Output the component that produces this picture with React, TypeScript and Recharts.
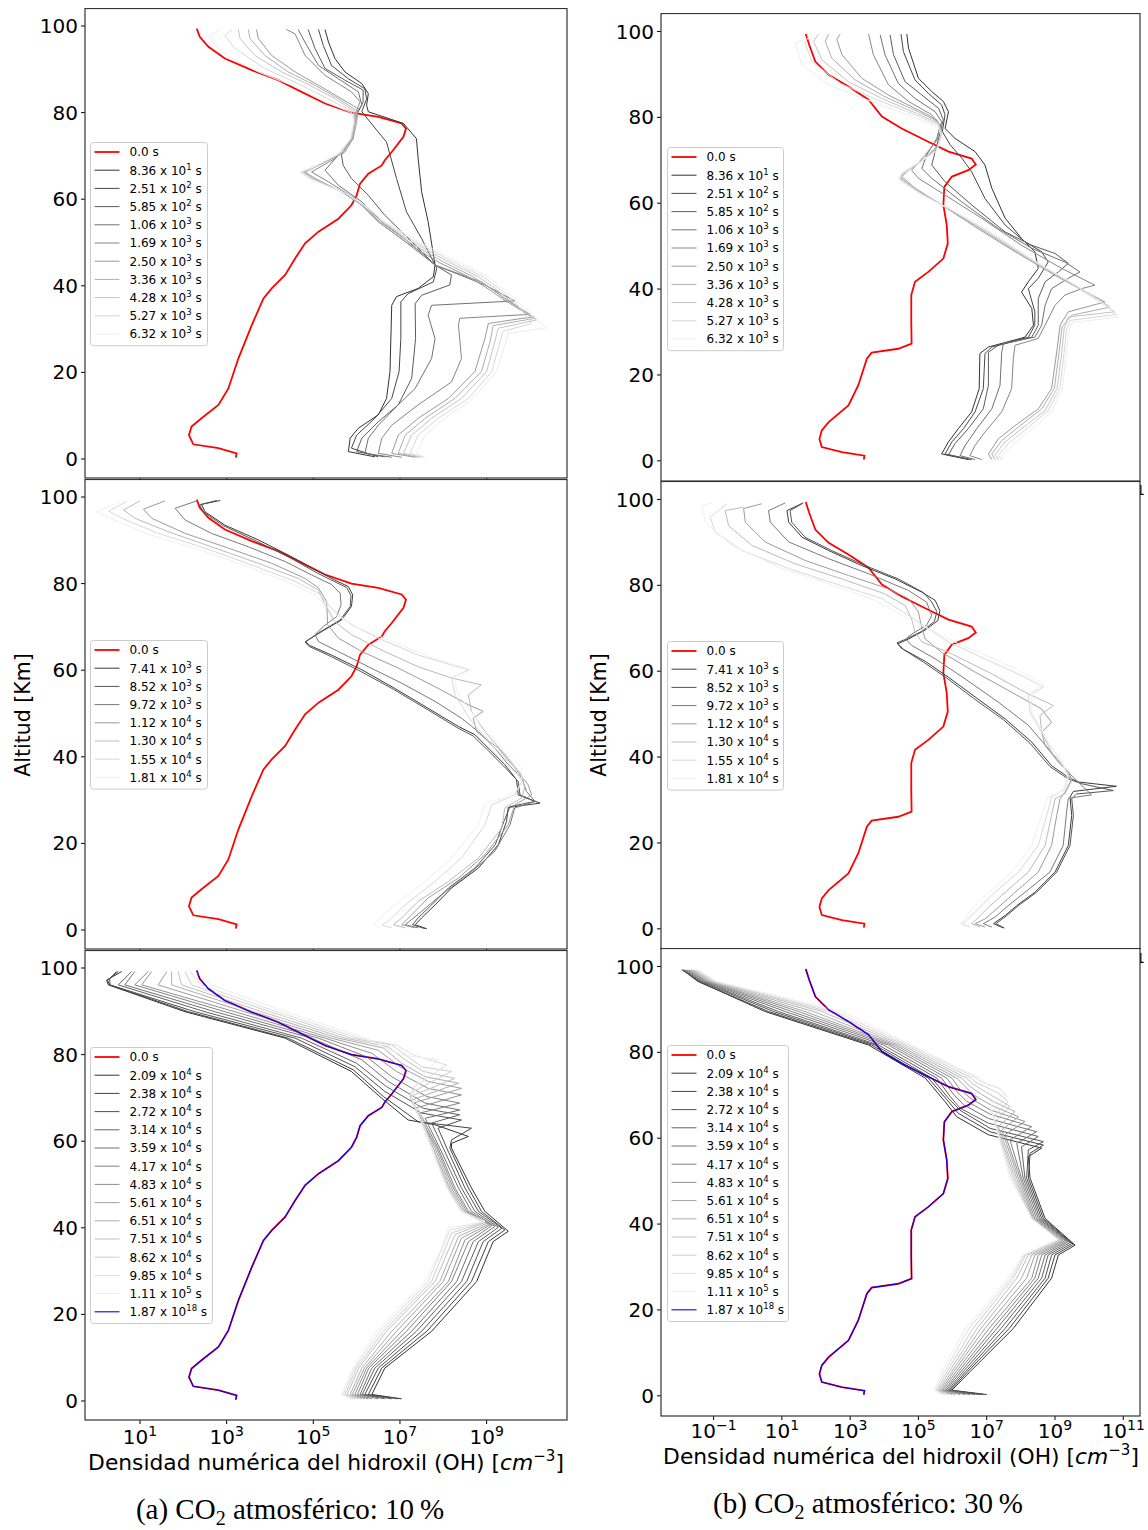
import React from 'react';
import { LineChart, Line, XAxis, YAxis } from 'recharts';

// Each point: [altitude km, log10 of OH number density (cm^-3)]
type P = [number, number];

// ---------- initial profiles (0.0 s) ----------
const RED_10: P[] = [[99.4,2.31],[97.5,2.38],[95.2,2.58],[92.5,2.96],[89.8,3.58],[87.5,4.19],[84.8,4.73],[82.1,5.27],[80,5.88],[79,6.5],[77.5,7.04],[76.3,7.14],[74.4,7.08],[70.9,6.81],[69,6.65],[67.8,6.58],[65.9,6.27],[63.6,6.08],[60.9,6.0],[58.6,5.88],[55.5,5.58],[52.5,5.12],[49.8,4.81],[46.3,4.58],[42.5,4.35],[39.4,4.04],[37.1,3.85],[30.9,3.58],[23.2,3.27],[16.3,3.04],[12.5,2.81],[9.4,2.42],[7.5,2.19],[5.5,2.13],[3.4,2.23],[2.5,2.81],[1.3,3.23],[0.3,3.21]];
const RED_30: P[] = [[99.4,1.70],[96.9,1.80],[93,1.98],[89.9,2.37],[87.2,2.95],[84.1,3.54],[80.2,3.93],[77.4,4.51],[74.3,5.29],[72,5.88],[70.4,6.56],[69,6.68],[67.7,6.46],[66.2,5.98],[63.8,5.76],[59.6,5.73],[54.9,5.83],[50.6,5.86],[47.1,5.73],[44,5.29],[41.7,4.90],[38.6,4.79],[32.3,4.79],[27.3,4.80],[26.1,4.41],[25.2,3.63],[23.8,3.49],[17.6,3.24],[12.9,2.95],[9.0,2.37],[7.1,2.17],[5.1,2.10],[3.2,2.17],[2.0,2.76],[1.2,3.42],[0.3,3.40]];
// steady state (1.87 x 10^18 s) lies on top of the initial profile
const STEADY_10: P[] = RED_10;
const STEADY_30: P[] = RED_30;

// ---------- (a) 10 %, top ----------
const A1_1: P[] = [[99.2,5.27],[96.3,5.35],[92.5,5.5],[89.4,5.73],[86.7,6.12],[84.4,6.27],[81.7,6.23],[80.2,6.27],[77.5,7.08],[74,7.38],[69.4,7.42],[61.7,7.5],[54.8,7.65],[44.8,7.81],[42.1,7.77],[39.4,7.42],[37.5,6.92],[35.5,6.81],[27.8,6.79],[20.2,6.77],[14,6.69],[10.2,6.5],[7.1,6.04],[4.8,5.85],[1.7,5.81],[0.5,6.42]];
const A1_2: P[] = [[99.2,5.12],[95.5,5.23],[90.9,5.42],[87.8,5.81],[85.5,6.19],[83.2,6.23],[80.2,6.12],[75.5,6.5],[73.2,6.69],[64.8,6.92],[57.1,7.15],[50.9,7.5],[44.8,7.81],[44,7.85],[40.9,7.77],[38.2,7.19],[36.3,7.02],[27.8,7.02],[20.2,6.98],[14,6.81],[9.4,6.42],[5.5,6.0],[2.5,5.88],[0.5,6.5]];
const A1_3: P[] = [[99.2,4.88],[94.8,5.04],[90.2,5.27],[87.5,5.73],[85.2,6.15],[82.5,6.15],[79.4,6.0],[74,5.88],[70.2,5.65],[67.8,5.69],[64.8,5.88],[60.9,6.27],[56.3,6.65],[50.2,7.27],[44.8,7.81],[42.5,8.19],[40.2,8.15],[37.8,7.5],[35.9,7.35],[27.8,7.36],[18.6,7.27],[12.5,6.96],[8.6,6.5],[4.8,6.12],[1.7,6.0],[0.5,6.65]];
const A1_4: P[] = [[99.2,4.65],[95.5,4.85],[90.9,5.12],[87.8,5.58],[84.8,6.04],[81.7,6.12],[79.4,5.96],[74,5.92],[70.2,5.58],[66.7,5.27],[63.2,5.58],[59.4,6.12],[54.8,6.58],[50.2,7.19],[44.8,7.81],[40.2,8.96],[36.5,9.65],[35.5,7.73],[33.2,7.65],[27.8,7.81],[23.2,7.73],[16.3,7.35],[12.5,6.96],[7.8,6.5],[4.8,6.27],[1.3,6.19],[0.4,6.81]];
const A1_5: P[] = [[99.2,4.38],[98.2,4.58],[93.2,4.81],[88.6,5.27],[84.8,5.88],[82.5,6.08],[79.4,5.96],[74,5.92],[69.4,5.5],[66.3,4.96],[64,5.35],[60.2,5.96],[54.8,6.5],[50.2,7.12],[44.8,7.81],[40.9,8.88],[37.1,9.42],[33.4,10.0],[32.5,8.38],[30.9,8.35],[23.2,8.42],[17.8,8.19],[12.5,7.42],[7.8,6.81],[4.8,6.58],[1.3,6.5],[0.4,7.04]];
const A1_6: P[] = [[99.2,3.69],[97.1,3.73],[93.2,4.04],[89.4,4.58],[86.3,5.12],[83.2,5.65],[80.9,6.04],[77.8,6.0],[74,5.92],[70.9,5.73],[67.8,5.12],[66.3,4.81],[64.8,5.04],[61.7,5.65],[58.6,6.12],[54.8,6.5],[50.2,7.12],[45.5,7.88],[42.1,8.58],[39.8,8.96],[37.1,9.35],[32.8,10.04],[31.3,9.04],[27.8,8.96],[20.2,8.73],[14,8.12],[9.4,7.42],[5.5,6.96],[1.3,6.81],[0.4,7.35]];
const A1_7: P[] = [[99.2,3.5],[97.1,3.54],[93.2,3.88],[89.4,4.42],[86.3,5.04],[83.2,5.58],[80.5,6.0],[77.8,5.98],[74,5.91],[70.9,5.69],[67.7,5.08],[66.3,4.77],[64.8,5.0],[61.5,5.69],[58.5,6.15],[54.8,6.54],[50.2,7.19],[45.5,8.0],[42.1,8.69],[39.5,9.08],[36.7,9.46],[32.5,10.12],[30.8,9.15],[27.1,9.08],[20.2,8.88],[14,8.27],[9.4,7.58],[5.5,7.12],[1.3,6.96],[0.4,7.42]];
const A1_8: P[] = [[99.2,3.27],[97.1,3.31],[93.2,3.65],[89.4,4.27],[86.3,4.92],[83.2,5.5],[80.3,5.96],[77.8,5.96],[74,5.88],[70.8,5.65],[67.5,5.04],[66.3,4.73],[64.8,4.96],[61.4,5.73],[58.3,6.19],[54.8,6.58],[50.2,7.27],[45.5,8.12],[42.1,8.81],[39.4,9.19],[36.3,9.58],[32.1,10.15],[30.2,9.27],[27.1,9.19],[20.2,9.0],[14,8.42],[9.4,7.73],[5.5,7.27],[1.3,7.08],[0.4,7.5]];
const A1_9: P[] = [[99.2,3.12],[97.8,2.96],[94.8,3.19],[90.2,3.88],[86.3,4.73],[82.8,5.42],[80.2,5.92],[77.8,5.95],[74,5.87],[70.6,5.62],[67.4,5.0],[66.3,4.72],[64.8,4.95],[61.2,5.77],[58.2,6.23],[54.8,6.62],[50.2,7.35],[45.5,8.23],[42.1,8.92],[39.2,9.31],[35.9,9.69],[31.3,10.04],[29.5,9.38],[27.1,9.31],[20.2,9.12],[14,8.58],[9.4,7.88],[5.5,7.42],[1.3,7.23],[0.4,7.54]];
const A1_10: P[] = [[99.2,2.88],[97.8,2.62],[95.5,2.73],[92.5,3.12],[89.4,3.73],[86.3,4.5],[82.5,5.27],[80,5.88],[77.8,5.93],[74,5.85],[70.5,5.58],[67.2,4.96],[66.2,4.69],[64.6,4.92],[61.1,5.81],[58,6.27],[54.8,6.65],[50.2,7.42],[45.5,8.35],[42.1,9.04],[39,9.42],[35.5,9.81],[30.3,10.38],[29,9.5],[26.3,9.42],[20.2,9.23],[14,8.69],[9.4,8.04],[5.5,7.58],[1.3,7.38],[0.4,7.58]];

// ---------- (a) 10 %, middle ----------
const A2_1: P[] = [[99.2,2.85],[98.3,2.42],[96.6,2.5],[93.5,2.96],[90.1,3.73],[86.2,4.5],[82.8,5.12],[80.8,5.5],[79.3,5.81],[77.4,5.91],[74.7,5.88],[71.6,5.65],[68.9,5.19],[66.6,4.82],[65.7,4.92],[63.5,5.42],[60.1,6.12],[55.8,6.88],[51.2,7.65],[47,8.35],[45.1,8.73],[42,9.04],[38.2,9.42],[34.7,9.69],[31.2,9.73],[29.3,10.23],[28.3,9.5],[25.1,9.46],[19.7,9.27],[14.3,8.81],[9.7,8.19],[5.8,7.81],[2.8,7.5],[1.2,7.35],[0.3,7.62]];
const A2_2: P[] = [[99.2,2.77],[98.2,2.38],[96.6,2.46],[93.4,2.92],[89.8,3.69],[86,4.46],[82.5,5.08],[80.6,5.46],[79.1,5.77],[77.2,5.87],[74.7,5.85],[71.6,5.62],[68.8,5.15],[66.5,4.81],[65.5,4.9],[63.3,5.38],[59.8,6.08],[55.6,6.85],[51,7.62],[46.8,8.31],[44.8,8.69],[41.8,9.0],[38,9.38],[34.3,9.73],[31.2,9.77],[29.7,10.12],[28.5,9.54],[25.1,9.4],[19.7,9.2],[14.3,8.73],[9.7,8.12],[5.8,7.73],[2.8,7.42],[1.2,7.29],[0.3,7.58]];
const A2_3: P[] = [[99.1,2.31],[97.4,1.81],[94.7,2.04],[91.6,2.65],[88.5,3.5],[85.1,4.35],[82,4.96],[79.8,5.42],[77.8,5.62],[75.1,5.64],[72.4,5.54],[70.1,5.23],[68.2,5.04],[66.6,5.12],[64.3,5.58],[60.8,6.27],[57,7.04],[52.8,7.81],[48.9,8.42],[45.8,8.81],[42,9.19],[38.2,9.5],[35.1,9.81],[32,9.92],[29.7,10.12],[28.2,9.65],[24.3,9.54],[18.2,9.19],[12.8,8.58],[8.2,7.96],[4.3,7.5],[1.2,7.12],[0.5,7.42]];
const A2_4: P[] = [[99.1,1.58],[97.2,1.08],[95.1,1.27],[91.6,2.04],[88.2,3.04],[84.7,4.04],[81.2,4.81],[79,5.12],[75.8,5.31],[70.5,5.33],[67.4,5.58],[64.3,6.12],[60.5,6.96],[56.2,7.81],[52,8.58],[50.5,8.92],[48.9,8.69],[45.8,8.77],[42,9.27],[37.4,9.65],[33.5,9.96],[31.2,10.04],[28.9,9.65],[24.3,9.5],[17.4,8.96],[12,8.35],[7.4,7.65],[3.5,7.27],[1.2,7.04],[0.5,7.35]];
const A2_5: P[] = [[99.1,1.0],[97,0.62],[95.1,0.88],[92,1.65],[88.5,2.65],[84.7,3.73],[81.2,4.65],[78.5,5.12],[75.1,5.27],[71.2,5.5],[68.2,5.88],[64.3,6.65],[60.8,7.42],[58.2,8.19],[56.6,8.88],[54.3,8.58],[50.5,8.65],[45.8,8.96],[39.7,9.5],[35.8,9.81],[32.8,9.88],[30.5,9.81],[28.2,9.42],[23.5,9.35],[16.6,8.81],[11.2,8.12],[6.6,7.42],[2.8,7.04],[1.2,6.85],[0.5,7.12]];
const A2_6: P[] = [[98.9,0.69],[96.8,0.28],[95.1,0.58],[91.6,1.42],[88.2,2.5],[84.3,3.58],[80.5,4.58],[77.8,5.12],[74.3,5.42],[70.5,5.88],[67.4,6.5],[63.5,7.42],[61.2,8.19],[60.1,8.58],[58.2,8.19],[54.3,8.27],[48.2,8.65],[42,9.19],[37.4,9.65],[34.3,9.81],[31.2,9.65],[28.9,9.12],[24.3,8.96],[16.6,8.42],[11.2,7.81],[5.8,7.12],[2,6.73],[1.2,6.58],[0.5,6.81]];
const A2_7: P[] = [[98.9,0.54],[96.6,0.0],[94.9,0.35],[91.4,1.19],[88,2.31],[84.2,3.42],[80.3,4.42],[77.4,5.04],[73.5,5.42],[69.7,6.04],[67,6.73],[63.2,7.65],[61.2,8.27],[60.1,8.65],[58.5,8.23],[54.3,8.35],[48.2,8.81],[42,9.35],[37.4,9.81],[33.5,9.81],[30.5,9.42],[29.3,8.96],[24.3,8.81],[16.6,8.19],[11.2,7.58],[5.8,6.88],[2,6.46],[1.2,6.38],[0.5,6.54]];

// ---------- (a) 10 %, bottom ----------
const A3_1: P[] = [[99.2,0.58],[97.2,0.23],[96.1,0.27],[89.9,2.04],[83.8,4.35],[76.1,5.88],[69.9,6.58],[64.9,7.19],[63.8,7.81],[61.1,8.58],[59.5,8.19],[58.4,8.19],[49.2,8.65],[43.8,8.96],[39.2,9.5],[36.8,9.15],[27.6,8.77],[16.1,7.73],[7.6,6.65],[1.5,6.35],[0.5,7.04]];
const A3_2: P[] = [[99.2,0.5],[97.2,0.25],[96.1,0.3],[89.9,2.12],[83.8,4.42],[76.5,5.92],[70.3,6.62],[64.5,7.42],[63,8.65],[60.3,8.19],[58.4,8.15],[49.2,8.58],[43.8,8.88],[39.5,9.42],[36.8,9.04],[27.6,8.65],[16.1,7.62],[7.6,6.58],[1.5,6.27],[0.5,6.96]];
const A3_3: P[] = [[99.2,0.46],[97.5,0.3],[96.1,0.31],[89.9,2.27],[83.8,4.58],[77.2,5.96],[71.5,6.65],[66.5,7.5],[64.9,8.42],[63,7.88],[58.4,8.08],[49.2,8.5],[43.8,8.81],[39.9,9.35],[36.8,8.92],[27.6,8.54],[16.1,7.5],[7.6,6.5],[1.5,6.19],[0.5,6.81]];
const A3_4: P[] = [[99.2,0.81],[96.1,0.5],[89.9,2.5],[83.8,4.73],[78,6.0],[72.6,6.69],[67.6,7.54],[66.1,8.38],[64.2,7.73],[58.4,8.0],[49.2,8.42],[43.8,8.73],[40.1,9.27],[36.8,8.81],[27.6,8.42],[16.1,7.38],[7.6,6.42],[1.5,6.13],[0.5,6.65]];
const A3_5: P[] = [[99.2,0.88],[96.1,0.65],[89.9,2.73],[83.8,4.96],[78.8,6.12],[73.8,6.73],[68.8,7.58],[67.2,8.38],[65.3,7.58],[58.4,7.92],[49.2,8.35],[43.8,8.65],[40.3,9.19],[36.8,8.69],[27.6,8.31],[16.1,7.27],[7.6,6.35],[1.5,6.08],[0.5,6.5]];
const A3_6: P[] = [[99.2,1.19],[96.1,0.88],[89.9,2.96],[83.8,5.12],[79.5,6.23],[74.9,6.81],[70.3,7.62],[68.8,8.38],[66.5,7.46],[58.4,7.88],[49.2,8.27],[43.8,8.58],[40.5,9.12],[36.8,8.58],[27.6,8.19],[16.1,7.15],[7.6,6.28],[1.5,6.02],[0.5,6.35]];
const A3_7: P[] = [[99.2,1.27],[96.1,1.04],[89.9,3.19],[83.8,5.27],[80.3,6.35],[76.1,6.92],[72.2,7.65],[70.7,8.42],[67.6,7.35],[58.4,7.85],[49.2,8.23],[43.8,8.54],[40.7,9.08],[37.2,8.5],[27.6,8.12],[16.1,7.04],[7.6,6.23],[1.5,5.96],[0.5,6.27]];
const A3_8: P[] = [[99.2,1.62],[96.1,1.42],[89.9,3.42],[83.8,5.42],[81,6.5],[77.2,7.0],[73.8,7.65],[72.2,8.42],[68.8,7.31],[58.4,7.81],[49.2,8.19],[43.8,8.5],[40.8,9.04],[37.6,8.42],[27.6,8.0],[16.1,6.92],[7.6,6.18],[1.5,5.9],[0.5,6.19]];
const A3_9: P[] = [[99.2,1.73],[96.1,1.73],[89.9,3.62],[83.8,5.58],[81.5,6.62],[78,7.04],[74.9,7.58],[73.4,8.35],[69.5,7.27],[58.4,7.77],[49.2,8.15],[43.8,8.46],[41,9.0],[38,8.35],[27.6,7.92],[16.1,6.81],[7.6,6.12],[1.5,5.85],[0.5,6.12]];
const A3_10: P[] = [[99.2,1.88],[96.1,1.96],[89.9,3.81],[83.8,5.73],[81.8,6.73],[78.8,7.12],[76.1,7.54],[74.5,8.27],[70.3,7.23],[58.4,7.77],[49.2,8.12],[43.8,8.42],[41.2,8.96],[38.4,8.27],[27.6,7.81],[16.1,6.69],[7.6,6.05],[1.5,5.78],[0.5,6.04]];
const A3_11: P[] = [[99.2,2.04],[96.1,2.19],[89.9,4.0],[83.8,5.88],[82.2,6.81],[79.5,7.19],[77.2,7.5],[76.1,8.19],[71.1,7.23],[58.4,7.73],[49.2,8.12],[43.8,8.42],[41.3,8.96],[38.8,8.19],[27.6,7.73],[16.1,6.62],[7.6,6.0],[1.5,5.73],[0.5,5.96]];
const A3_12: P[] = [[99.2,2.15],[96.1,2.42],[89.9,4.15],[83.8,6.04],[82.2,6.92],[79.9,7.31],[77.6,8.08],[72.2,7.27],[58.4,7.73],[49.2,8.08],[43.8,8.42],[41.4,8.96],[39.4,8.15],[27.6,7.65],[16.1,6.54],[7.6,5.96],[1.5,5.69],[0.5,5.92]];
const A3_13: P[] = [[99.2,2.27],[96.1,2.65],[89.9,4.35],[83.8,6.19],[79.9,7.04],[78.8,7.88],[73.8,7.42],[69.9,7.27],[58.4,7.73],[49.2,8.08],[43.8,8.42],[41.5,8.96],[39.9,8.12],[35.3,7.96],[27.6,7.58],[16.1,6.46],[7.6,5.92],[1.5,5.65],[0.5,5.88]];

// ---------- (b) 30 %, top ----------
const B1_1: P[] = [[99.4,4.66],[96.1,4.71],[89.1,5.0],[86,5.39],[83.7,5.73],[81.3,5.88],[77.4,5.78],[75.1,6.07],[72,6.66],[68.9,6.95],[63.5,7.15],[56.5,7.54],[51.8,8.02],[48.7,8.41],[44.8,8.51],[41.7,8.22],[39.3,8.02],[35.5,8.32],[31.6,8.37],[28.8,8.12],[26.5,7.05],[25,6.8],[16.8,6.78],[11.4,6.56],[7.5,6.17],[4.4,5.88],[1.6,5.68],[0.3,6.46]];
const B1_2: P[] = [[99.4,4.49],[95.3,4.56],[88.7,4.9],[85.6,5.29],[82.9,5.68],[80.6,5.78],[76.7,5.7],[73.6,5.93],[70.5,6.27],[67.3,6.56],[61.1,6.95],[54.9,7.54],[51,8.12],[48.7,8.61],[46.3,8.8],[42.5,8.51],[40.1,8.22],[34.7,8.41],[31.6,8.41],[28.8,8.22],[26.5,7.15],[25,6.95],[16.8,6.9],[11.4,6.66],[7.5,6.32],[4.4,5.98],[1.6,5.78],[0.3,6.51]];
const B1_3: P[] = [[99.2,4.17],[94.6,4.27],[88.3,4.61],[85.2,5.1],[82.1,5.59],[79.4,5.73],[75.1,5.59],[72,5.49],[68.9,5.39],[65,5.78],[59.6,6.56],[53.3,7.54],[50.2,8.32],[48.3,9.0],[46,9.39],[44,9.1],[41.7,8.71],[37.8,8.51],[31.6,8.51],[28.8,8.32],[26.9,7.34],[25.3,7.05],[17.6,7.05],[12.1,6.9],[7.5,6.46],[4.0,6.07],[1.4,5.88],[0.3,6.56]];
const B1_4: P[] = [[99.2,3.88],[94.6,4.02],[87.9,4.41],[84.4,4.9],[81.3,5.49],[79,5.68],[75.1,5.54],[71.2,5.24],[68.1,5.1],[65.8,5.39],[60.3,6.27],[54.1,7.34],[49.5,8.32],[46.3,9.29],[44,9.73],[42.5,9.39],[40.1,8.9],[36.2,8.71],[31.6,8.61],[28.8,8.41],[27.3,7.49],[25.3,7.44],[17.6,7.39],[12.1,7.15],[7.5,6.71],[3.6,6.37],[1.2,6.22],[0.3,6.66]];
const B1_5: P[] = [[99.4,3.54],[94.6,3.68],[87.6,4.12],[83.7,4.71],[80.6,5.39],[78.2,5.63],[74.7,5.54],[71.2,5.2],[67.7,4.8],[65.8,5.0],[61.9,5.78],[56.5,6.85],[50.2,8.02],[44.8,9.2],[40.9,10.17],[40.1,9.78],[38.6,9.29],[36.2,9.0],[31.6,8.71],[28.5,8.51],[26.9,7.83],[23.8,7.78],[16.8,7.73],[11.4,7.44],[6.7,6.95],[3.6,6.66],[1.2,6.51],[0.3,6.85]];
const B1_6: P[] = [[99.4,2.71],[98.2,2.61],[94.6,2.76],[89.1,3.34],[85.2,4.12],[81.7,5.0],[79.4,5.54],[77.1,5.68],[73.6,5.59],[70.5,5.2],[67.7,4.71],[66.2,4.51],[63.5,4.9],[59.6,5.68],[54.5,6.66],[48.7,7.83],[43.2,9.0],[38.6,10.07],[37,10.46],[34.7,9.39],[31.6,9.15],[25.3,9.05],[16.8,8.9],[12.1,8.51],[8.2,7.83],[5.1,7.34],[1.6,7.05],[0.3,7.15]];
const B1_7: P[] = [[99.4,2.37],[97.7,2.27],[93.8,2.46],[88.7,3.15],[84.8,4.02],[81.3,5.0],[79,5.57],[76.7,5.68],[73.2,5.57],[70.1,5.15],[67.3,4.61],[65.9,4.48],[63.1,4.95],[59.2,5.78],[54.1,6.8],[47.9,8.02],[42.5,9.2],[37.8,10.27],[35.8,10.61],[33.9,9.49],[31.2,9.21],[25.3,9.12],[16.8,8.98],[12.1,8.61],[7.9,7.93],[4.7,7.44],[1.6,7.15],[0.3,7.24]];
const B1_8: P[] = [[99.4,2.07],[97.7,1.93],[93.4,2.17],[88.3,2.95],[84.4,3.93],[80.9,4.95],[78.6,5.59],[76.3,5.68],[72.8,5.55],[69.8,5.1],[67.1,4.56],[65.8,4.46],[62.7,5.0],[58.8,5.88],[53.7,6.95],[47.1,8.22],[41.7,9.39],[36.6,10.41],[34.7,10.74],[33.5,9.39],[30.8,9.27],[25.3,9.2],[16.8,9.06],[11.7,8.71],[7.5,8.02],[4.4,7.54],[1.4,7.24],[0.3,7.34]];
const B1_9: P[] = [[98.8,1.78],[97.3,1.68],[93,1.88],[87.9,2.71],[84.1,3.78],[80.6,4.9],[78.2,5.59],[75.9,5.68],[72.4,5.54],[69.7,5.05],[67,4.51],[65.6,4.44],[62.3,5.05],[58.4,5.98],[53.3,7.1],[46.3,8.41],[40.9,9.59],[35.8,10.56],[34.1,10.8],[32.7,9.44],[30.4,9.33],[25.3,9.27],[16.8,9.14],[11.7,8.8],[7.1,8.12],[4.0,7.63],[1.2,7.34],[0.3,7.44]];
const B1_10: P[] = [[98.2,1.68],[97.3,1.39],[92.2,1.59],[87.2,2.46],[83.7,3.63],[80.2,4.8],[77.8,5.57],[75.5,5.68],[72,5.52],[69.4,5.0],[66.7,4.49],[65.4,4.43],[61.9,5.1],[58,6.07],[52.6,7.24],[45.6,8.61],[40.1,9.78],[35.1,10.71],[33.5,10.85],[32.2,9.49],[29.6,9.39],[25.3,9.34],[16.8,9.21],[11.4,8.9],[6.7,8.22],[3.6,7.73],[1.1,7.44],[0.3,7.49]];

// ---------- (b) 30 %, middle ----------
const B2_1: P[] = [[99.2,1.63],[97.4,1.15],[94.7,1.2],[91.2,1.59],[88.1,2.37],[84.6,3.34],[81.5,4.32],[78.4,5.1],[76.5,5.49],[74.1,5.63],[71.8,5.57],[69.6,5.2],[67.5,4.71],[66.4,4.4],[65.1,4.56],[62.3,5.2],[58.6,5.88],[54,6.66],[48.9,7.54],[43.5,8.32],[38,8.9],[35.3,9.39],[34.2,9.68],[33.2,10.8],[32,9.54],[30.7,9.44],[26.4,9.49],[19.4,9.39],[13.2,9.0],[8.5,8.41],[5.4,7.88],[3.1,7.54],[1.2,7.2],[0.2,7.49]];
const B2_2: P[] = [[99,1.59],[97.4,1.24],[94.7,1.29],[91.2,1.68],[88.1,2.46],[84.6,3.44],[81.5,4.41],[78.3,5.15],[76.1,5.39],[73.9,5.54],[71.6,5.47],[69.3,5.1],[67.4,4.61],[66.6,4.37],[65.4,4.49],[62.1,5.15],[58.4,5.83],[53.7,6.61],[48.7,7.49],[43.2,8.27],[37.8,8.85],[34.9,9.39],[33.8,9.78],[32.2,10.71],[31.4,9.63],[30.3,9.49],[26.4,9.54],[19.4,9.44],[13.2,9.05],[8.5,8.46],[5.4,7.93],[3.1,7.59],[1.2,7.27],[0.2,7.52]];
const B2_3: P[] = [[99.2,1.1],[97.4,0.61],[94.7,0.66],[90.1,1.2],[86.2,2.37],[82.7,3.54],[78.8,4.71],[76.1,5.24],[73,5.39],[70.7,5.24],[68.9,4.85],[67.5,4.63],[66,4.8],[62.9,5.49],[58.2,6.37],[52.8,7.34],[47.4,8.22],[41.1,8.9],[37.3,9.29],[34.9,9.59],[31.2,10.07],[30.4,9.39],[27.2,9.34],[19.4,9.24],[13.2,8.85],[8.5,8.12],[5.4,7.63],[2.7,7.24],[1.2,6.9],[0.4,7.15]];
const B2_4: P[] = [[99,0.41],[97.9,-0.12],[94.7,-0.07],[90.1,0.51],[85.8,1.68],[82.3,2.95],[79.2,4.12],[76.9,4.71],[73.8,5.0],[69.9,5.1],[67.5,5.2],[64.4,5.68],[59.8,6.66],[55.1,7.73],[51.2,8.61],[48.1,8.9],[45.8,8.61],[42.7,8.71],[38.8,9.1],[36.5,9.39],[34.9,9.49],[31.8,9.29],[30.3,9.15],[26.4,9.05],[19.4,8.9],[13.2,8.51],[8.5,7.83],[5.0,7.34],[2.3,6.95],[1.2,6.66],[0.4,6.95]];
const B2_5: P[] = [[98.2,-0.12],[97.4,-0.66],[93.9,-0.56],[89.3,0.12],[85,1.39],[81.5,2.76],[78,4.02],[75.3,4.61],[72.2,4.8],[69.1,4.9],[66.8,5.1],[64.4,5.88],[59.8,7.05],[55.1,8.12],[52,8.95],[49.7,8.56],[45.8,8.61],[41.1,8.9],[37.3,9.29],[34.5,9.49],[31.4,9.29],[30.3,9.0],[26.4,8.9],[19.4,8.71],[13.2,8.22],[8.5,7.54],[5.0,7.05],[2.3,6.71],[1.2,6.56],[0.4,6.8]];
const B2_6: P[] = [[99,-0.61],[95.9,-1.1],[92.4,-0.95],[88.1,-0.17],[83.9,1.2],[80.4,2.56],[76.9,3.93],[73,4.71],[69.9,5.29],[66.8,5.88],[62.5,7.05],[59,8.02],[56.3,8.66],[54.3,8.22],[50.5,8.27],[44.3,8.71],[38.8,9.2],[35.7,9.39],[32.6,9.29],[30.7,8.9],[26.4,8.76],[19.4,8.51],[13.2,7.93],[8.5,7.24],[4.7,6.76],[1.9,6.41],[1.2,6.27],[0.4,6.51]];
const B2_7: P[] = [[99.2,-1.05],[98.6,-1.34],[94.7,-1.24],[89.3,-0.46],[84.2,0.9],[80.4,2.37],[76.5,3.73],[72.2,4.71],[69.1,5.49],[66,6.27],[62.5,7.34],[59,8.22],[57.1,8.66],[55.1,8.32],[50.5,8.32],[43.5,8.8],[38,9.24],[34.9,9.39],[31.8,9.15],[30.7,8.8],[26.4,8.61],[19.4,8.32],[13.2,7.73],[8.5,7.05],[4.7,6.56],[1.9,6.32],[1.2,6.22],[0.4,6.41]];

// ---------- (b) 30 %, bottom ----------
const B3_1: P[] = [[99.2,-1.88],[96.5,-1.44],[89.5,0.51],[81.7,3.54],[74,5.2],[68.5,5.78],[65,6.12],[60.8,7.05],[57.7,8.61],[55.7,8.22],[50.7,8.27],[41.3,8.71],[35.1,9.59],[32.8,9.1],[27.4,8.9],[15.7,7.78],[5.6,6.51],[1.3,5.98],[0.3,7.0]];
const B3_2: P[] = [[99.2,-1.91],[96.5,-1.46],[89.5,0.61],[81.7,3.63],[74,5.29],[69,5.83],[65.8,6.17],[61.5,7.1],[58.4,8.66],[56.5,8.27],[50.7,8.22],[41.3,8.66],[35.3,9.54],[32.8,9.0],[27.4,8.8],[15.7,7.66],[5.6,6.44],[1.3,5.94],[0.3,6.9]];
const B3_3: P[] = [[99.2,-1.93],[96.5,-1.39],[89.5,0.76],[81.7,3.73],[74,5.39],[69.3,5.88],[66.5,6.22],[62.3,7.1],[59.2,8.66],[57.3,8.22],[50.7,8.17],[41.3,8.61],[35.5,9.49],[32.8,8.9],[27.4,8.71],[15.7,7.54],[5.6,6.38],[1.3,5.9],[0.3,6.8]];
const B3_4: P[] = [[99.2,-1.88],[96.5,-1.34],[89.5,0.9],[81.7,3.83],[74,5.54],[69.7,5.93],[67,6.22],[63.5,7.05],[60.4,8.51],[58,8.02],[50.7,8.12],[41.3,8.56],[35.7,9.44],[32.8,8.8],[27.4,8.61],[15.7,7.42],[5.6,6.31],[1.3,5.86],[0.3,6.66]];
const B3_5: P[] = [[99.2,-1.83],[96.5,-1.29],[89.5,1.1],[81.7,3.98],[74,5.68],[70.3,6.02],[67.8,6.32],[64.6,7.05],[61.5,8.46],[58.8,7.88],[50.7,8.07],[41.3,8.51],[35.9,9.39],[32.8,8.71],[27.4,8.51],[15.7,7.3],[5.6,6.24],[1.3,5.81],[0.3,6.51]];
const B3_6: P[] = [[99.2,-1.78],[96.5,-1.24],[89.5,1.29],[81.7,4.12],[74,5.83],[70.9,6.12],[68.6,6.41],[65.6,7.1],[62.7,8.32],[59.6,7.68],[50.7,8.02],[41.3,8.46],[36,9.34],[32.8,8.61],[27.4,8.41],[15.7,7.19],[5.6,6.17],[1.3,5.77],[0.3,6.37]];
const B3_7: P[] = [[99.2,-1.73],[96.5,-1.2],[89.5,1.49],[81.7,4.22],[74,5.98],[71.4,6.22],[69.4,6.51],[66.6,7.1],[63.9,8.12],[60.8,7.54],[50.7,7.98],[41.3,8.41],[36.1,9.29],[32.8,8.51],[27.4,8.32],[15.7,7.07],[5.6,6.1],[1.3,5.72],[0.3,6.22]];
const B3_8: P[] = [[99.2,-1.68],[96.5,-1.15],[89.5,1.68],[81.7,4.32],[74,6.12],[72,6.37],[70.1,6.61],[67.6,7.15],[65,7.93],[61.9,7.44],[50.7,7.93],[41.3,8.37],[36.1,9.24],[32.8,8.41],[27.4,8.17],[15.7,6.95],[5.6,6.03],[1.3,5.68],[0.3,6.07]];
const B3_9: P[] = [[99.2,-1.63],[96.5,-1.1],[89.5,1.93],[81.7,4.41],[74,6.27],[72.4,6.46],[70.9,6.71],[68.5,7.2],[66.2,7.83],[62.7,7.34],[50.7,7.88],[41.3,8.34],[36.2,9.2],[32.8,8.32],[27.4,8.02],[15.7,6.83],[5.6,5.97],[1.3,5.63],[0.3,5.98]];
const B3_10: P[] = [[99.2,-1.59],[96.5,-1.05],[89.5,2.17],[81.7,4.51],[74,6.41],[72.8,6.56],[71.6,6.8],[69.5,7.24],[67.4,7.68],[63.9,7.24],[50.7,7.83],[41.3,8.32],[36.3,9.15],[32.8,8.22],[27.4,7.88],[15.7,6.72],[5.6,5.9],[1.3,5.59],[0.3,5.88]];
const B3_11: P[] = [[99.2,-1.54],[96.5,-1.0],[89.5,2.37],[81.7,4.61],[74,6.56],[73.1,6.66],[72.2,6.9],[70.5,7.34],[68.5,7.63],[65,7.2],[50.7,7.78],[41.3,8.32],[36.3,9.12],[32.8,8.14],[27.4,7.78],[15.7,6.6],[5.6,5.83],[1.3,5.55],[0.3,5.78]];
const B3_12: P[] = [[99.2,-1.49],[96.5,-0.95],[89.5,2.56],[81.7,4.71],[74,6.71],[73.5,6.76],[72.8,6.95],[71.6,7.39],[69.7,7.59],[66.2,7.15],[50.7,7.73],[41.3,8.32],[36.4,9.1],[32.8,8.1],[27.4,7.71],[15.7,6.48],[5.6,5.76],[1.3,5.51],[0.3,5.73]];
const B3_13: P[] = [[99.2,-1.44],[96.5,-0.9],[89.5,2.76],[81.7,4.8],[74,6.8],[73.6,6.85],[72.4,7.05],[71.6,7.34],[70.5,7.54],[67.4,7.1],[50.7,7.68],[41.3,8.32],[36.4,9.08],[32.8,8.07],[27.4,7.63],[15.7,6.37],[5.6,5.68],[1.3,5.47],[0.3,5.68]];

// ---------- legend labels (mantissa, exponent) ----------
const LABELS_TOP: [string, string][] = [['8.36','1'],['2.51','2'],['5.85','2'],['1.06','3'],['1.69','3'],['2.50','3'],['3.36','3'],['4.28','3'],['5.27','3'],['6.32','3']];
const LABELS_MID: [string, string][] = [['7.41','3'],['8.52','3'],['9.72','3'],['1.12','4'],['1.30','4'],['1.55','4'],['1.81','4']];
const LABELS_BOT: [string, string][] = [['2.09','4'],['2.38','4'],['2.72','4'],['3.14','4'],['3.59','4'],['4.17','4'],['4.83','4'],['5.61','4'],['6.51','4'],['7.51','4'],['8.62','4'],['9.85','4'],['1.11','5']];
const LABEL_STEADY: [string, string] = ['1.87', '18'];

const X_TICKS_A = [1e1, 1e3, 1e5, 1e7, 1e9];
const X_TICKS_B = [1e-1, 1e1, 1e3, 1e5, 1e7, 1e9, 1e11];
const Y_TICKS = [0, 20, 40, 60, 80, 100];

const GRAY10 = ['#333333','#484848','#5c5c5c','#717171','#868686','#9a9a9a','#afafaf','#c4c4c4','#d8d8d8','#ededed'];
const GRAY7 = ['#3c3c3c','#555555','#7a7a7a','#9c9c9c','#bbbbbb','#d9d9d9','#f0f0f0'];
const GRAY13 = ['#333333','#434343','#525252','#626262','#717171','#818181','#909090','#a0a0a0','#afafaf','#bfbfbf','#cecece','#dedede','#ededed'];

type Series = { pts: P[]; color: string; width: number; label: string | [string, string] };

const RED = '#ff0000';
const BLUE = '#0000ff';

function grays(list: P[][], colors: string[], labels: [string, string][]): Series[] {
  return list.map((pts, i) => ({ pts, color: colors[i], width: 1, label: labels[i] }));
}

const S_A1: Series[] = [{ pts: RED_10, color: RED, width: 1.8, label: '0.0 s' }, ...grays([A1_1,A1_2,A1_3,A1_4,A1_5,A1_6,A1_7,A1_8,A1_9,A1_10], GRAY10, LABELS_TOP)];
const S_A2: Series[] = [{ pts: RED_10, color: RED, width: 1.8, label: '0.0 s' }, ...grays([A2_1,A2_2,A2_3,A2_4,A2_5,A2_6,A2_7], GRAY7, LABELS_MID)];
const S_A3: Series[] = [{ pts: RED_10, color: RED, width: 1.8, label: '0.0 s' }, ...grays([A3_1,A3_2,A3_3,A3_4,A3_5,A3_6,A3_7,A3_8,A3_9,A3_10,A3_11,A3_12,A3_13], GRAY13, LABELS_BOT), { pts: STEADY_10, color: BLUE, width: 1.1, label: LABEL_STEADY }];
const S_B1: Series[] = [{ pts: RED_30, color: RED, width: 1.8, label: '0.0 s' }, ...grays([B1_1,B1_2,B1_3,B1_4,B1_5,B1_6,B1_7,B1_8,B1_9,B1_10], GRAY10, LABELS_TOP)];
const S_B2: Series[] = [{ pts: RED_30, color: RED, width: 1.8, label: '0.0 s' }, ...grays([B2_1,B2_2,B2_3,B2_4,B2_5,B2_6,B2_7], GRAY7, LABELS_MID)];
const S_B3: Series[] = [{ pts: RED_30, color: RED, width: 1.8, label: '0.0 s' }, ...grays([B3_1,B3_2,B3_3,B3_4,B3_5,B3_6,B3_7,B3_8,B3_9,B3_10,B3_11,B3_12,B3_13], GRAY13, LABELS_BOT), { pts: STEADY_30, color: BLUE, width: 1.1, label: LABEL_STEADY }];

const X_DOM_A: [number, number] = [Math.pow(10, -0.269), Math.pow(10, 10.855)];
const X_DOM_B: [number, number] = [Math.pow(10, -2.54), Math.pow(10, 11.49)];
const Y_DOM_A: [number, number] = [-4.39, 104.16];
const Y_DOM_B: [number, number] = [-4.7, 104.3];

interface PanelCfg {
  left: number; top: number; w: number; h: number;
  xDom: [number, number]; yDom: [number, number]; xTicks: number[];
  series: Series[]; tickBase: number;
  legend: { x: number; y: number; w: number };
}

const PANELS: PanelCfg[] = [
  { left: 85, top: 8, w: 482, h: 470, xDom: X_DOM_A, yDom: Y_DOM_A, xTicks: X_TICKS_A, series: S_A1, tickBase: 18, legend: { x: 90, y: 142, w: 117 } },
  { left: 85, top: 479, w: 482, h: 470, xDom: X_DOM_A, yDom: Y_DOM_A, xTicks: X_TICKS_A, series: S_A2, tickBase: 18, legend: { x: 90, y: 640, w: 117 } },
  { left: 85, top: 950, w: 482, h: 470, xDom: X_DOM_A, yDom: Y_DOM_A, xTicks: X_TICKS_A, series: S_A3, tickBase: 18, legend: { x: 90, y: 1047, w: 122 } },
  { left: 661, top: 13, w: 479, h: 468, xDom: X_DOM_B, yDom: Y_DOM_B, xTicks: X_TICKS_B, series: S_B1, tickBase: 16, legend: { x: 667, y: 147, w: 116 } },
  { left: 661, top: 481, w: 479, h: 468, xDom: X_DOM_B, yDom: Y_DOM_B, xTicks: X_TICKS_B, series: S_B2, tickBase: 16, legend: { x: 667, y: 641, w: 116 } },
  { left: 661, top: 948, w: 479, h: 468, xDom: X_DOM_B, yDom: Y_DOM_B, xTicks: X_TICKS_B, series: S_B3, tickBase: 16, legend: { x: 667, y: 1045, w: 121 } },
];

const FONT = 'DejaVu Sans';
const YW = 62;
const XH = 60;
const MR = 24;

function XTick(props: any) {
  const { x, y, payload, base } = props;
  const e = Math.round(Math.log10(payload.value));
  const sup = e < 0 ? '\u2212' + Math.abs(e) : String(e);
  return (
    <text x={x} y={y + base} textAnchor="middle" fontFamily={FONT} fontSize={20} fill="#000">
      10<tspan dy={-8} fontSize={14}>{sup}</tspan>
    </text>
  );
}

function toRows(pts: P[]) {
  return pts.map(([alt, lg]) => ({ x: Math.pow(10, lg), y: alt }));
}

function Panel({ cfg }: { cfg: PanelCfg }) {
  const { left, top, w, h } = cfg;
  const W = YW + w + MR;
  const H = h + XH;
  return (
    <div style={{ position: 'absolute', left: left - YW, top, width: W, height: H }}>
      <div style={{ position: 'absolute', left: YW, top: 0, width: w, height: h, background: '#fff' }} />
      <div style={{ position: 'absolute', left: 0, top: 0 }}>
        <LineChart width={W} height={H} margin={{ top: 0, right: MR, bottom: 0, left: 0 }}>
          <XAxis type="number" dataKey="x" scale="log" domain={cfg.xDom} allowDataOverflow ticks={cfg.xTicks} interval={0}
            height={XH} axisLine={false} tickSize={4} tickLine={{ stroke: '#000' }} tick={<XTick base={cfg.tickBase} />} />
          <YAxis type="number" dataKey="y" domain={cfg.yDom} allowDataOverflow ticks={Y_TICKS} interval={0} width={YW}
            axisLine={false} tickSize={4} tickMargin={3} tickLine={{ stroke: '#000' }}
            tick={{ fontSize: 20, fill: '#000', fontFamily: FONT }} />
          {cfg.series.map((s, i) => (
            <Line key={i} data={toRows(s.pts)} dataKey="y" type="linear" stroke={s.color} strokeWidth={s.width}
              dot={false} activeDot={false} isAnimationActive={false} />
          ))}
        </LineChart>
      </div>
      <svg style={{ position: 'absolute', left: 0, top: 0 }} width={W} height={H}>
        <rect x={YW} y={0.5} width={w} height={h - 0.5} fill="none" stroke="#333" strokeWidth={1.2} />
      </svg>
    </div>
  );
}

function LegendBox({ x, y, w, items }: { x: number; y: number; w: number; items: Series[] }) {
  const rowH = 18.2;
  const h = items.length * rowH + 3;
  return (
    <g>
      <rect x={x + 0.5} y={y + 0.5} width={w} height={h} rx={3} fill="#fff" fillOpacity={0.85} stroke="#cccccc" strokeWidth={1} />
      {items.map((it, i) => {
        const cy = y + 10 + i * rowH;
        return (
          <g key={i}>
            <line x1={x + 4.5} x2={x + 29.5} y1={cy} y2={cy} stroke={it.color} strokeWidth={it.width} />
            <text x={x + 39.5} y={cy + 4.4} fontSize={12} fontFamily={FONT} fill="#000">
              {typeof it.label === 'string' ? it.label : (
                <>
                  {it.label[0] + ' x 10'}
                  <tspan dy={-5} fontSize={8.5}>{it.label[1]}</tspan>
                  <tspan dy={5}>{' s'}</tspan>
                </>
              )}
            </text>
          </g>
        );
      })}
    </g>
  );
}

function XLabel({ cx, y }: { cx: number; y: number }) {
  return (
    <text x={cx} y={y} textAnchor="middle" fontFamily={FONT} fontSize={21.8} fill="#000">
      Densidad numérica del hidroxil (OH) [<tspan fontStyle="italic">cm</tspan><tspan dy={-9} fontSize={15}>{'\u22123'}</tspan><tspan dy={9}>]</tspan>
    </text>
  );
}

function Caption({ cx, y, letter, pct }: { cx: number; y: number; letter: string; pct: string }) {
  return (
    <text x={cx} y={y} textAnchor="middle" fontFamily="Liberation Serif" fontSize={29} fill="#000">
      {'(' + letter + ') CO'}<tspan dy={6} fontSize={20}>2</tspan><tspan dy={-6}>{' atmosférico: ' + pct + '\u2009%'}</tspan>
    </text>
  );
}

export default function App() {
  return (
    <div style={{ position: 'absolute', left: 0, top: 0, width: 1148, height: 1530, background: '#fff', overflow: 'hidden' }}>
      {PANELS.map((p, i) => <Panel key={i} cfg={p} />)}
      <svg style={{ position: 'absolute', left: 0, top: 0, pointerEvents: 'none' }} width={1148} height={1530}>
        {PANELS.map((p, i) => <LegendBox key={i} x={p.legend.x} y={p.legend.y} w={p.legend.w} items={p.series} />)}
        <text transform="translate(29.5,715) rotate(-90)" textAnchor="middle" fontFamily={FONT} fontSize={20.5} fill="#000">Altitud [Km]</text>
        <text transform="translate(606,715) rotate(-90)" textAnchor="middle" fontFamily={FONT} fontSize={20.5} fill="#000">Altitud [Km]</text>
        <XLabel cx={326} y={1470} />
        <XLabel cx={901} y={1464} />
        <Caption cx={290} y={1519} letter="a" pct="10" />
        <Caption cx={868} y={1513} letter="b" pct="30" />
      </svg>
    </div>
  );
}
